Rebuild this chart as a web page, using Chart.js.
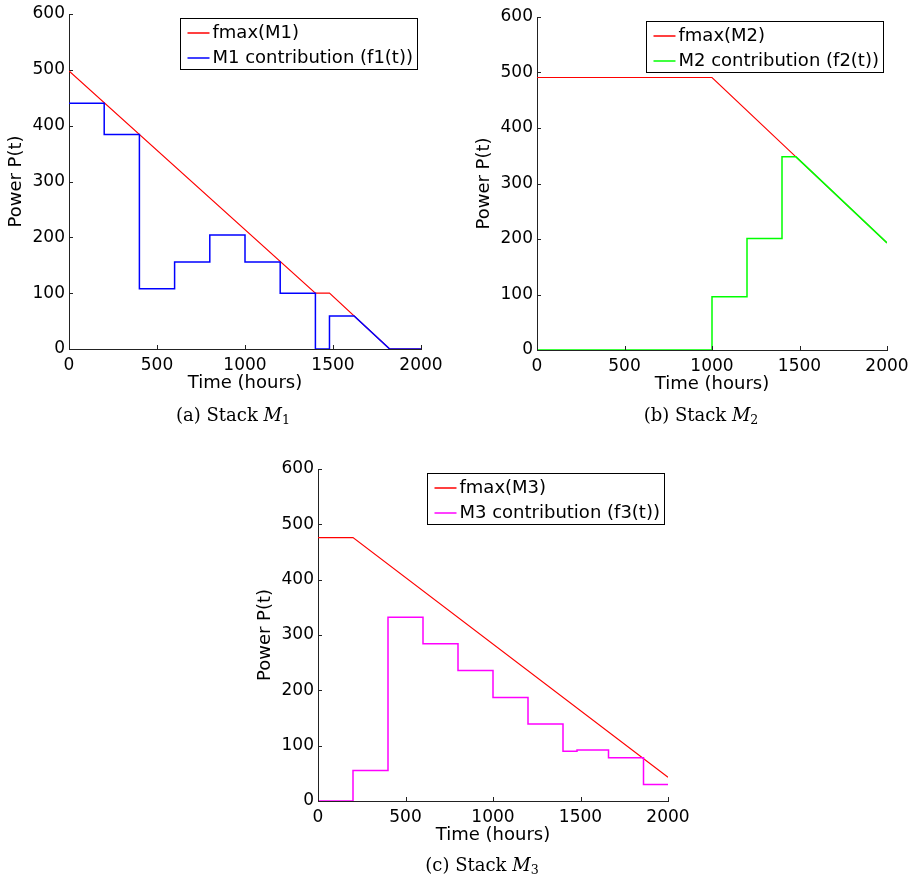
<!DOCTYPE html>
<html>
<head>
<meta charset="utf-8">
<title>Stack power contributions</title>
<script src="https://cdn.jsdelivr.net/npm/chart.js@4.4.1/dist/chart.umd.min.js"></script>
<style>
  html, body { margin: 0; padding: 0; background: #fff; }
  #page { position: relative; width: 912px; height: 889px; overflow: hidden; background: #fff; }
  canvas { position: absolute; }
  .caption {
    position: absolute;
    font-family: 'DejaVu Serif', serif;
    font-size: 18px;
    color: #000;
    white-space: nowrap;
    transform: translate(-50%, -50%);
    line-height: 1;
  }
  .caption i { font-style: italic; }
  .caption sub { font-size: 70%; vertical-align: -0.25em; line-height: 0; }
</style>
</head>
<body>
<div id="page">
  <canvas id="chart-a" width="460" height="440" style="left:0px;top:0px"></canvas>
  <canvas id="chart-b" width="452" height="440" style="left:460px;top:0px"></canvas>
  <canvas id="chart-c" width="460" height="420" style="left:240px;top:450px"></canvas>
  <div class="caption" style="left:233px;top:415px">(a) Stack <i>M</i><sub>1</sub></div>
  <div class="caption" style="left:701px;top:415px">(b) Stack <i>M</i><sub>2</sub></div>
  <div class="caption" style="left:482px;top:865px">(c) Stack <i>M</i><sub>3</sub></div>
</div>
<script>
// Axis ticks
const timeTicks = [0, 500, 1000, 1500, 2000];
const powerTicks = [0, 100, 200, 300, 400, 500, 600];

// Stack M1
const fmax1Time = [0, 1400, 1480, 1822, 2000];
const fmax1Power = [498, 100, 100, 0, 0];
const f1Time = [0, 200, 200, 400, 400, 600, 600, 800, 800, 1000, 1000, 1200, 1200, 1400, 1400, 1480, 1480, 1620, 1822, 2000];
const f1Power = [440, 440, 384, 384, 108, 108, 156, 156, 204, 204, 156, 156, 100, 100, 0, 0, 59, 59, 0, 0];

// Stack M2
const fmax2Time = [0, 1000, 2000];
const fmax2Power = [491, 491, 193];
const f2Time = [0, 1000, 1000, 1200, 1200, 1400, 1400, 1480, 2000];
const f2Power = [0, 0, 96, 96, 201, 201, 348, 348, 193];

// Stack M3
const fmax3Time = [0, 200, 2000];
const fmax3Power = [476, 476, 43];
const f3Time = [0, 200, 200, 400, 400, 600, 600, 800, 800, 1000, 1000, 1200, 1200, 1400, 1400, 1480, 1480, 1660, 1660, 1860, 1860, 2000];
const f3Power = [0, 0, 55, 55, 332, 332, 284, 284, 236, 236, 187, 187, 139, 139, 90, 90, 92, 92, 78, 78, 30, 30];

const axisColor = '#222';
const sansFont = "'DejaVu Sans', sans-serif";

function toPoints(xs, ys) {
  return xs.map((x, i) => ({ x: x, y: ys[i] }));
}

// Inward tick marks and a boxed legend in the top right corner
const matlabLook = {
  id: 'matlabLook',
  afterDraw(chart) {
    const { ctx, chartArea: a, scales: { x, y } } = chart;
    ctx.save();
    ctx.strokeStyle = axisColor;
    ctx.lineWidth = 1;
    ctx.beginPath();
    x.ticks.forEach(t => {
      const px = Math.round(x.getPixelForValue(t.value)) + 0.5;
      ctx.moveTo(px, a.bottom);
      ctx.lineTo(px, a.bottom - 4);
    });
    y.ticks.forEach(t => {
      const py = Math.round(y.getPixelForValue(t.value)) + 0.5;
      ctx.moveTo(a.left, py);
      ctx.lineTo(a.left + 4, py);
    });
    ctx.stroke();

    // legend
    const sets = chart.data.datasets;
    ctx.font = '18px ' + sansFont;
    const textW = Math.max(...sets.map(d => ctx.measureText(d.label).width));
    const w = Math.round(7 + 22 + 3 + textW + 5);
    const h = 51;
    const bx = Math.round(a.right - 4 - w) + 0.5;
    const by = Math.round(a.top + 4) + 0.5;
    ctx.fillStyle = '#fff';
    ctx.fillRect(bx, by, w, h);
    ctx.strokeStyle = '#000';
    ctx.lineWidth = 1;
    ctx.strokeRect(bx, by, w, h);
    ctx.textBaseline = 'middle';
    ctx.textAlign = 'left';
    sets.forEach((d, i) => {
      const ry = Math.round(by + 14 + i * 25.5);
      ctx.strokeStyle = d.borderColor;
      ctx.lineWidth = 1.5;
      ctx.beginPath();
      ctx.moveTo(bx + 7, ry);
      ctx.lineTo(bx + 29, ry);
      ctx.stroke();
      ctx.fillStyle = '#000';
      ctx.fillText(d.label, bx + 32, ry);
    });
    ctx.restore();
  }
};

function makeChart(canvasId, padding, fmaxLabel, fmaxT, fmaxP, fLabel, fT, fP, fColor) {
  const ctx = document.getElementById(canvasId).getContext('2d');
  return new Chart(ctx, {
    type: 'line',
    data: {
      datasets: [
        {
          label: fmaxLabel,
          data: toPoints(fmaxT, fmaxP),
          borderColor: '#ff0000',
          borderWidth: 1.1,
          pointRadius: 0,
          tension: 0,
          order: 1
        },
        {
          label: fLabel,
          data: toPoints(fT, fP),
          borderColor: fColor,
          borderWidth: 1.5,
          pointRadius: 0,
          tension: 0,
          order: 0
        }
      ]
    },
    options: {
      responsive: false,
      animation: false,
      devicePixelRatio: 1,
      events: [],
      layout: { padding: padding },
      plugins: {
        legend: { display: false },
        tooltip: { enabled: false }
      },
      scales: {
        x: {
          type: 'linear',
          min: timeTicks[0],
          max: timeTicks[timeTicks.length - 1],
          afterBuildTicks: s => { s.ticks = timeTicks.map(v => ({ value: v })); },
          afterFit: s => { s.height = 50; s.paddingLeft = 0; s.paddingRight = 0; },
          grid: { display: false, drawTicks: false, tickLength: 0 },
          border: { display: true, color: axisColor, width: 1 },
          ticks: {
            color: '#000',
            padding: 6,
            maxRotation: 0,
            autoSkip: false,
            callback: v => String(v),
            font: { family: sansFont, size: 17 }
          },
          title: {
            display: true,
            text: 'Time (hours)',
            color: '#000',
            padding: { top: 0, bottom: 5 },
            font: { family: sansFont, size: 18 }
          }
        },
        y: {
          type: 'linear',
          min: powerTicks[0],
          max: powerTicks[powerTicks.length - 1],
          afterBuildTicks: s => { s.ticks = powerTicks.map(v => ({ value: v })); },
          afterFit: s => { s.width = 69; s.paddingTop = 0; s.paddingBottom = 0; },
          grid: { display: false, drawTicks: false, tickLength: 0 },
          border: { display: true, color: axisColor, width: 1 },
          ticks: {
            color: '#000',
            padding: 4,
            autoSkip: false,
            callback: v => String(v),
            font: { family: sansFont, size: 17 }
          },
          title: {
            display: true,
            text: 'Power P(t)',
            color: '#000',
            padding: { top: 6, bottom: 0 },
            font: { family: sansFont, size: 18 }
          }
        }
      }
    },
    plugins: [matlabLook]
  });
}

makeChart('chart-a', { left: 0, top: 14, right: 39, bottom: 41 },
  'fmax(M1)', fmax1Time, fmax1Power, 'M1 contribution (f1(t))', f1Time, f1Power, '#0000ff');
makeChart('chart-b', { left: 8, top: 17, right: 25, bottom: 40 },
  'fmax(M2)', fmax2Time, fmax2Power, 'M2 contribution (f2(t))', f2Time, f2Power, '#00ff00');
makeChart('chart-c', { left: 9, top: 19, right: 32, bottom: 19 },
  'fmax(M3)', fmax3Time, fmax3Power, 'M3 contribution (f3(t))', f3Time, f3Power, '#ff00ff');
</script>
</body>
</html>
